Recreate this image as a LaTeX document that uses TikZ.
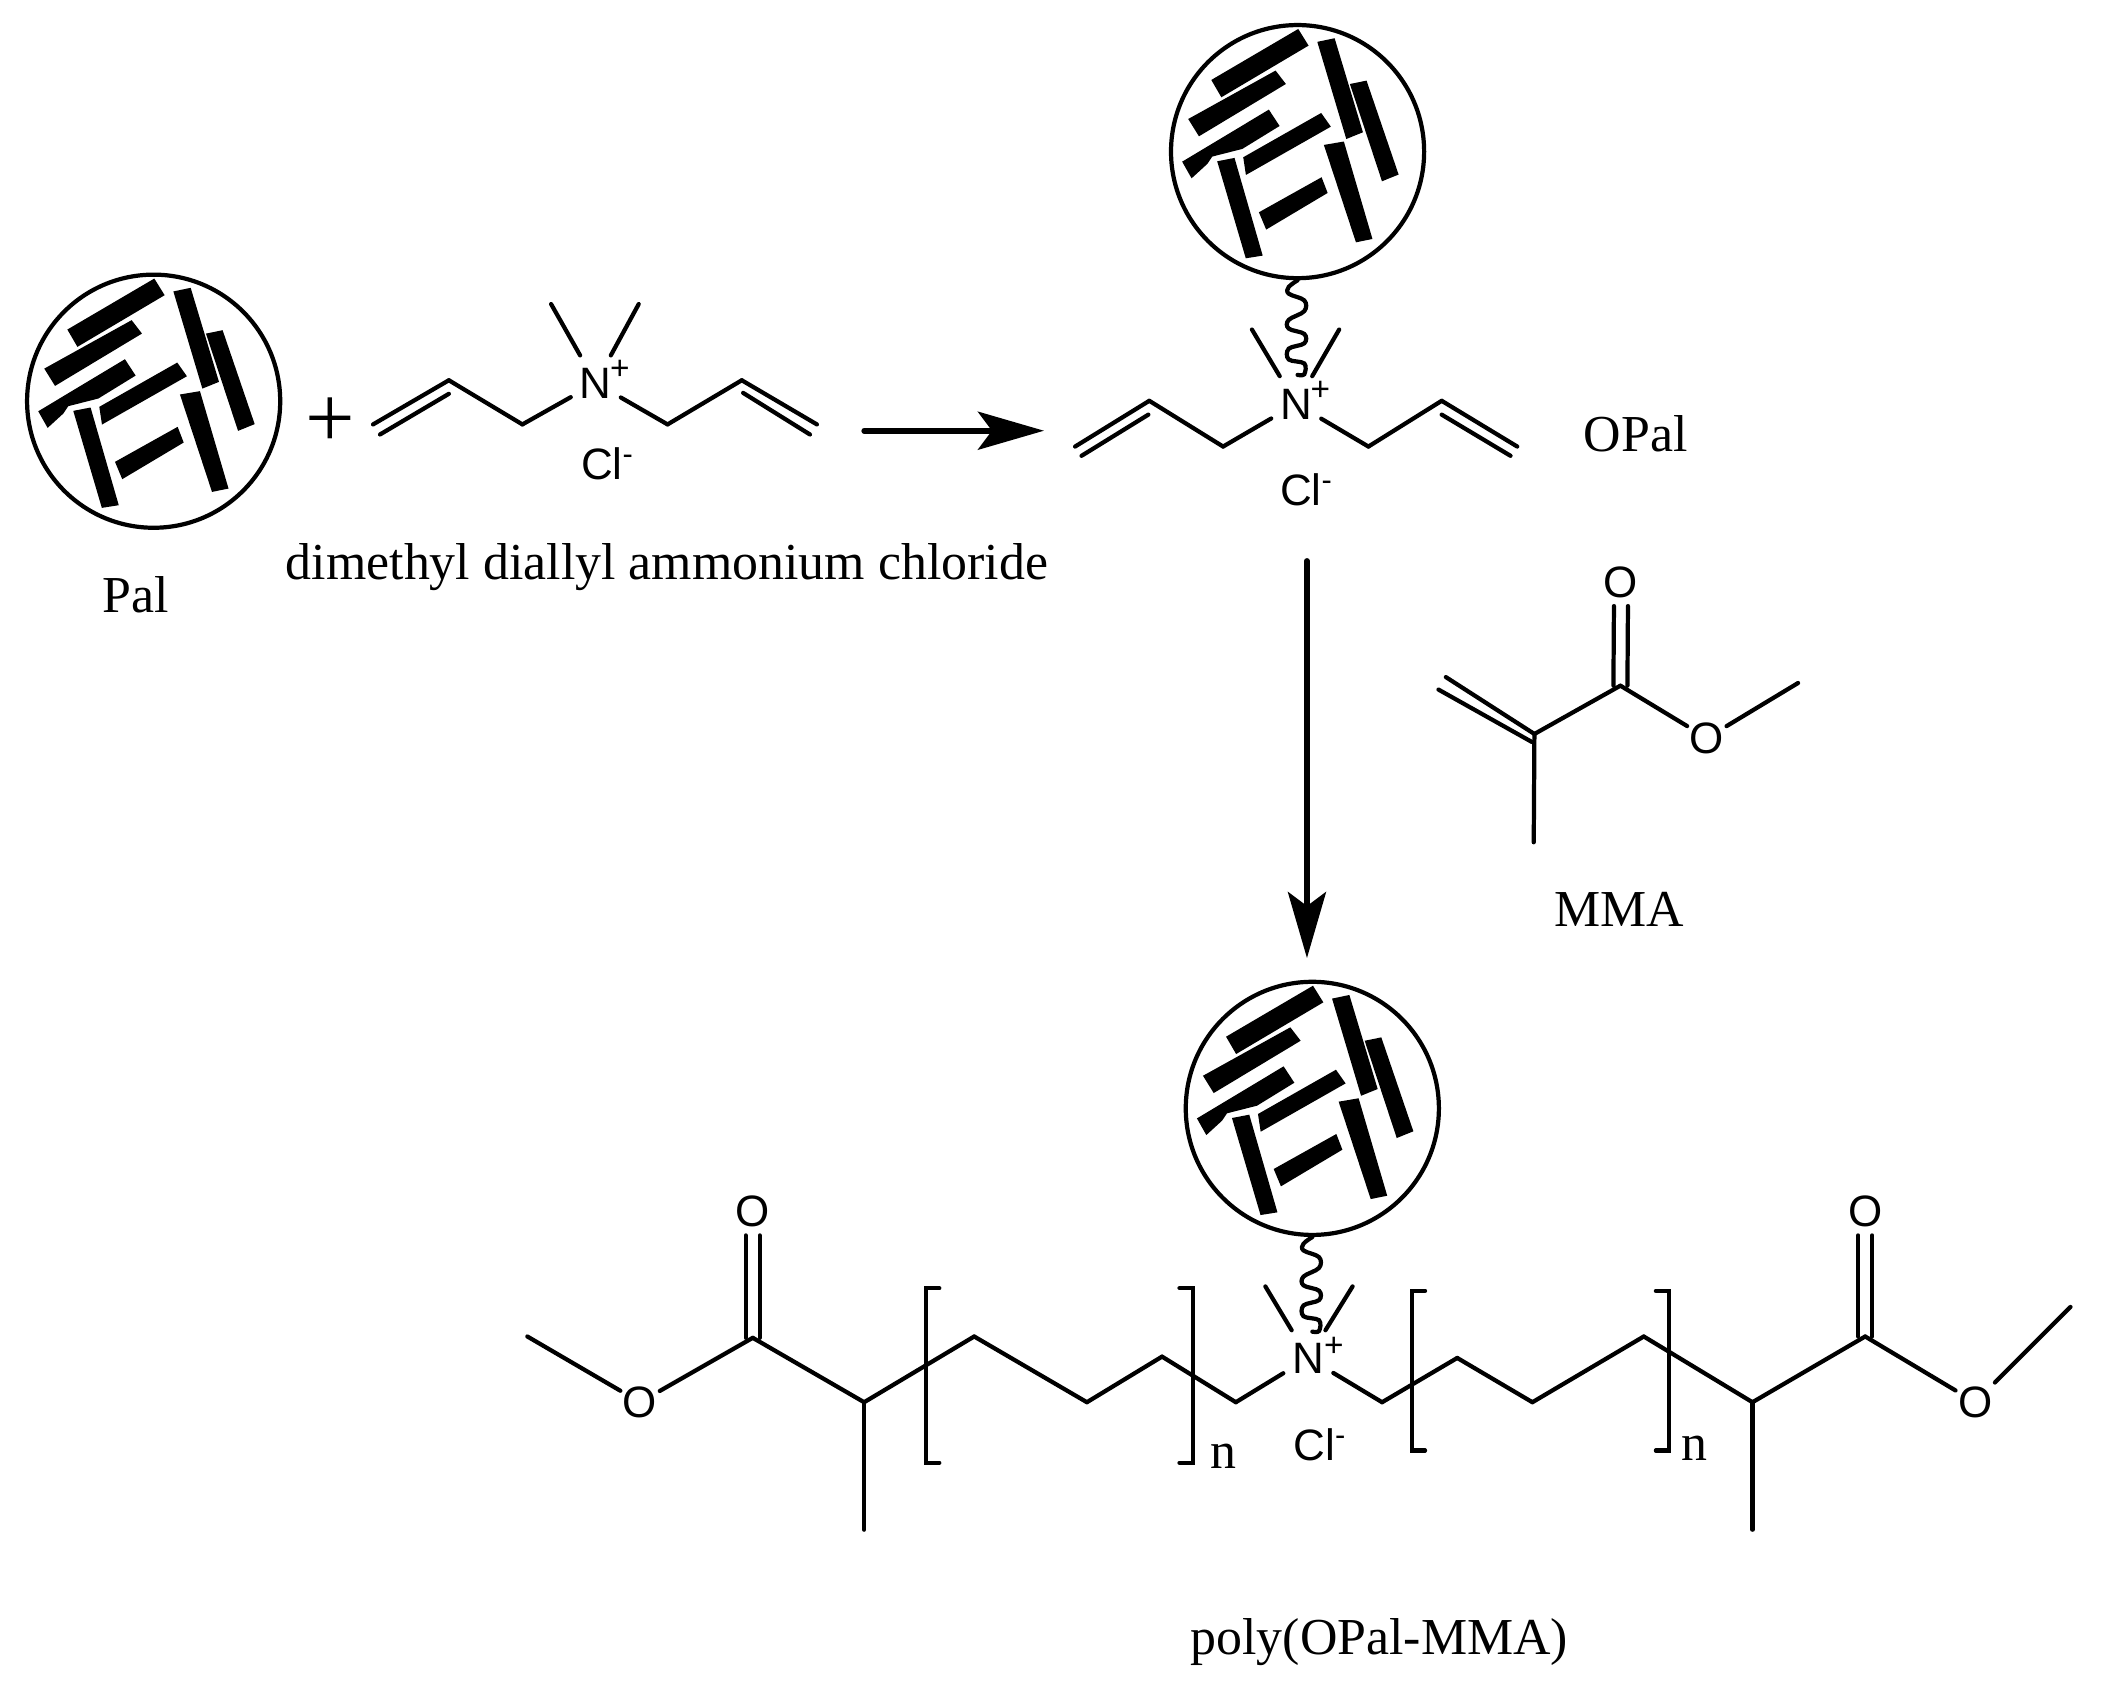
\documentclass[tikz,border=0pt]{standalone}
\usepackage{fontspec}
\setmainfont{Liberation Serif}
\setsansfont{Liberation Sans}
\usetikzlibrary{arrows.meta}

\tikzset{
	bond/.style={-, line width=1.2pt, line cap=round},
	bigarrow/.style={-{Stealth[length=0.66cm,width=0.38cm,inset=0.14cm]}, line width=1.6pt, line cap=round},
	txt/.style={font=\fontsize{14.75}{18}\selectfont, inner sep=0pt},
	atomn/.style={font=\sffamily\fontsize{12.5}{14}\selectfont, inner sep=0pt, minimum width=0.486cm, minimum height=0.54cm},
	atomo/.style={font=\sffamily\fontsize{12.5}{14}\selectfont, inner sep=0pt, minimum width=0.38cm, minimum height=0.46cm},
	ion/.style={font=\sffamily\fontsize{12.5}{14}\selectfont, inner sep=0pt},
	charge/.style={font=\sffamily\fontsize{9.5}{11}\selectfont, inner sep=0pt},
	blob/.style={shape=circle, draw=black, line width=1.2pt, inner sep=0pt, minimum size=2.53cm},
	palrods/.pic={
		\fill[black] (0.5,-91.4) -- (8.2,-79) -- (-56.8,-40.5) -- (-64.3,-53.4) -- cycle;
		\fill[black] (-16.4,-60.4) -- (-8.7,-50.4) -- (-73.5,-11.4) -- (-81.5,-24.3) -- cycle;
		\fill[black] (-21.4,-31.3) -- (-13.4,-19.1) -- (-41.2,-2) -- (-63.6,3.7) -- (-67.3,9.2) -- (-79,19.9) -- (-86,7.5) -- cycle;
		\fill[black] (17.6,-28.8) -- (24.8,-18.6) -- (-38.5,17.4) -- (-40.5,4.2) -- cycle;
		\fill[black] (14.7,-81.8) -- (27.6,-84.5) -- (48.7,-14.4) -- (36.3,-9.4) -- cycle;
		\fill[black] (39,-50.4) -- (51.4,-52.9) -- (75.3,17.1) -- (62.9,22.1) -- cycle;
		\fill[black] (19.6,-5) -- (34.5,-7.5) -- (55.8,65.1) -- (43.5,67.6) -- cycle;
		\fill[black] (-59.9,7.2) -- (-47,4.7) -- (-26,77.5) -- (-38.6,79.5) -- cycle;
		\fill[black] (-28.8,45.2) -- (17.9,19.1) -- (22.4,30.8) -- (-23.4,58.1) -- cycle;
	},
	wavylink/.pic={
		\draw[bond] plot[smooth,tension=0.6] coordinates {(0,0) (-6.6,5) (-6.6,10) (5,15) (5,23) (-6.6,29.5) (-6.6,36) (5,40) (5,47) (-6.6,51) (-6.6,59) (5,62) (5,70) (0,70.5)};
	},
}

\begin{document}
\begin{tikzpicture}[x=0.013418cm,y=-0.013418cm]
	\useasboundingbox (0,0) rectangle (1568,1258.7);
	
	% Pal
	\node[blob] (pala) at (114.5,299) {};
	\pic at (pala.center) {palrods};
	\node[txt] (palname) at (101,443) {Pal};
	\node[font=\fontsize{25}{27}\selectfont, inner sep=0pt] (plus) at (246,315) {+};
	
	% monomer
	\node[atomn] (na) at (444,285.5) {N};
	\node[charge] (npa) at (462,275.5) {+};
	\node[ion] (cla) at (453,346) {Cl\textsuperscript{-}};
	\node[txt] (mononame) at (497,423) {dimethyl diallyl ammonium chloride};
	\coordinate (ma1) at (410.7,226.6);
	\coordinate (ma2) at (476,226.6);
	\coordinate (la1) at (389.3,316.3);
	\coordinate (la2) at (334.5,283.4);
	\coordinate (la3) at (278,316.3);
	\coordinate (la4) at (334.5,293.5);
	\coordinate (la5) at (283.2,323.8);
	\coordinate (ra1) at (497.5,316.3);
	\coordinate (ra2) at (552.8,283.4);
	\coordinate (ra3) at (608.8,316.3);
	\coordinate (ra4) at (553.8,292.8);
	\coordinate (ra5) at (603.6,323.8);
	
	\path[bond] (na) edge (ma1);
	\path[bond] (na) edge (ma2);
	\path[bond] (na) edge (la1);
	\path[bond] (la1) edge (la2);
	\path[bond] (la2) edge (la3);
	\path[bond] (la4) edge (la5);
	\path[bond] (na) edge (ra1);
	\path[bond] (ra1) edge (ra2);
	\path[bond] (ra2) edge (ra3);
	\path[bond] (ra4) edge (ra5);
	
	\coordinate (arra1) at (644,321);
	\coordinate (arra2) at (778,321);
	\draw[bigarrow] (arra1) -- (arra2);
	
	% OPal
	\node[blob] (palb) at (967,113) {};
	\pic at (palb.center) {palrods};
	\pic at (palb.south) {wavylink};
	\node[atomn] (nb) at (966,301) {N};
	\node[charge] (npb) at (984,291) {+};
	\node[ion] (clb) at (974,365) {Cl\textsuperscript{-}};
	\node[txt] (opalname) at (1219,323) {OPal};
	\coordinate (mb1) at (933,245.6);
	\coordinate (mb2) at (998,245.6);
	\coordinate (lb1) at (911.5,332.8);
	\coordinate (lb2) at (856.5,298.7);
	\coordinate (lb3) at (801.2,332.8);
	\coordinate (lb4) at (855.8,309);
	\coordinate (lb5) at (806,339.7);
	\coordinate (rb1) at (1019.8,332.8);
	\coordinate (rb2) at (1074.4,298.7);
	\coordinate (rb3) at (1130.7,332.8);
	\coordinate (rb4) at (1074.4,309);
	\coordinate (rb5) at (1125.7,339.7);
	
	\path[bond] (nb) edge (mb1);
	\path[bond] (nb) edge (mb2);
	\path[bond] (nb) edge (lb1);
	\path[bond] (lb1) edge (lb2);
	\path[bond] (lb2) edge (lb3);
	\path[bond] (lb4) edge (lb5);
	\path[bond] (nb) edge (rb1);
	\path[bond] (rb1) edge (rb2);
	\path[bond] (rb2) edge (rb3);
	\path[bond] (rb4) edge (rb5);
	
	\coordinate (arrb1) at (974,418);
	\coordinate (arrb2) at (974,714);
	\draw[bigarrow] (arrb1) -- (arrb2);
	
	% MMA
	\node[atomo] (oc) at (1208,434) {O};
	\node[atomo] (oe) at (1272,550) {O};
	\node[txt] (mmaname) at (1207,678) {MMA};
	\coordinate (cc) at (1207.6,511);
	\coordinate (cv) at (1143.5,547);
	\coordinate (me1) at (1143,627.7);
	\coordinate (me2) at (1340,509);
	\coordinate (db1) at (1077.5,504.6);
	\coordinate (db2) at (1072,513.9);
	\coordinate (db3) at (1141.7,553);
	
	\path[bond] ([xshift=-0.07cm]oc.south) edge ([xshift=-0.07cm]cc);
	\path[bond] ([xshift=0.07cm]oc.south) edge ([xshift=0.07cm]cc);
	\path[bond] (cc) edge (cv);
	\path[bond] (cc) edge (oe);
	\path[bond] (oe) edge (me2);
	\path[bond] (cv) edge (me1);
	\path[bond] (cv) edge (db1);
	\path[bond] (db3) edge (db2);
	
	% poly(OPal-MMA)
	\node[blob] (palc) at (978,826) {};
	\pic at (palc.center) {palrods};
	\pic at (palc.south) {wavylink};
	\node[atomn] (nc) at (975,1012) {N};
	\node[charge] (npc) at (994,1004) {+};
	\node[ion] (clc) at (984,1077) {Cl\textsuperscript{-}};
	\node[txt] (polyname) at (1028,1223.5) {poly(OPal-MMA)};
	\node[txt] (nl) at (912,1085) {n};
	\node[txt] (nr) at (1263,1079) {n};
	\node[atomo] (ol1) at (561,903) {O};
	\node[atomo] (ol2) at (477,1045) {O};
	\node[atomo] (or1) at (1390,903) {O};
	\node[atomo] (or2) at (1472,1045) {O};
	
	\coordinate (mc1) at (943,958.7);
	\coordinate (mc2) at (1008,958.7);
	\coordinate (l1) at (921,1045);
	\coordinate (l2) at (866,1011);
	\coordinate (l3) at (810,1045);
	\coordinate (l4) at (726,996);
	\coordinate (l5) at (644,1045);
	\coordinate (l6) at (561,997);
	\coordinate (l7) at (393,996);
	\coordinate (l8) at (644,1140);
	\coordinate (r1) at (1030,1045);
	\coordinate (r2) at (1086,1012);
	\coordinate (r3) at (1142,1045);
	\coordinate (r4) at (1225,996);
	\coordinate (r5) at (1306,1045);
	\coordinate (r6) at (1390,996);
	\coordinate (r7) at (1543,974);
	\coordinate (r8) at (1306,1140);
	
	\path[bond] (nc) edge (mc1);
	\path[bond] (nc) edge (mc2);
	\path[bond] (nc) edge (l1);
	\path[bond] (l1) edge (l2);
	\path[bond] (l2) edge (l3);
	\path[bond] (l3) edge (l4);
	\path[bond] (l4) edge (l5);
	\path[bond] (l5) edge (l6);
	\path[bond] (l6) edge (ol2);
	\path[bond] (ol2) edge (l7);
	\path[bond] (l5) edge (l8);
	\path[bond] ([xshift=-0.07cm]ol1.south) edge ([xshift=-0.07cm]l6);
	\path[bond] ([xshift=0.07cm]ol1.south) edge ([xshift=0.07cm]l6);
	\path[bond] (nc) edge (r1);
	\path[bond] (r1) edge (r2);
	\path[bond] (r2) edge (r3);
	\path[bond] (r3) edge (r4);
	\path[bond] (r4) edge (r5);
	\path[bond] (r5) edge (r6);
	\path[bond] (r6) edge (or2);
	\path[bond] (or2) edge (r7);
	\path[bond] (r5) edge (r8);
	\path[bond] ([xshift=-0.07cm]or1.south) edge ([xshift=-0.07cm]r6);
	\path[bond] ([xshift=0.07cm]or1.south) edge ([xshift=0.07cm]r6);
	
	% brackets
	\draw[bond] (700,960) -- (690,960) -- (690,1090) -- (700,1090);
	\draw[bond] (879,960) -- (889,960) -- (889,1090) -- (879,1090);
	\draw[bond] (1062,962) -- (1052,962) -- (1052,1081) -- (1062,1081);
	\draw[bond] (1234,962) -- (1244,962) -- (1244,1081) -- (1234,1081);
	
\end{tikzpicture}
\end{document}
